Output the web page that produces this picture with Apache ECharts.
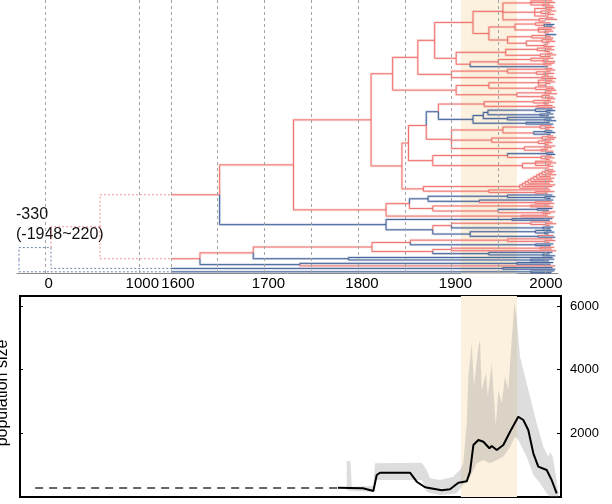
<!DOCTYPE html>
<html>
<head>
<meta charset="utf-8">
<script src="https://cdn.jsdelivr.net/npm/echarts@6/dist/echarts.min.js"></script>
<style>
  html, body { margin: 0; background: #fff; }
  #main { width: 612px; height: 504px; }
</style>
</head>
<body>
<div id="main"></div>
<script>
// ---- axis: years before 1600 are squeezed (broken axis) ----
const breakYears = [-330, 0, 1000, 1600]
const breakAxis = [1437.4, 1466.0, 1566.1, 1600]
const tickYears = [0, 1000, 1600, 1700, 1800, 1900, 2000]
const tickLabelShift = [3, 3, 7, 4, 4, 4, 1]
const gridYears = [0, 1000, 1600, 1650, 1700, 1750, 1800, 1850, 1900, 1950, 2000]
const shadeYears = [1910, 1970]

// ---- tree (colour letter r/b + node or tip year) ----
const cladeR1a = '((r2008,r2011,(r2005,r2009)r1998)r1985,((r2010,r2007)r2001,(r2012,(r2006,r2010)r2003)r1996,r2004)r1989,((r2009,r2013)r2002,r2000)r1994)r1955'
const cladeR1b = '(((r2006,(b2010,b2008)r1999)r1990,(r2011,r2007,(r2009,r2004)r2000)r1993)r1968,(((b2012,r2006)r2001,r2009)r1986,((r2008,(r2011,r2005)r2002)r1997,(r2003,r2010)r1999)r1980)r1960)r1940'
const cladeR2 = '(((r2007,(r2010,r2005)r2000)r1992,((r2008,r2012)r2003,r2006)r1995)r1958,(((r2009,(r2004,r2011)r1998)r1985,(r2010,r2007)r1999)r1950,b2003)r1920)r1905'
const cladeR2b = '(((r2008,r2011)r2002,(r2006,(r2010,r2004)r1999)r1991)r1960,(r2009,r2012)r1997)r1900'
const cladeR3 = '(((r2008,(r2011,r2006)r2001,r2002)r1993,(r2009,(r2010,r2012)r2002)r1990)r1940,((r2007,r2013)r2000,(r2005,(r2009,r2011)r2003)r1997)r1970)r1905'
const cladeR4 = '(((r2006,(r2010,r2004)r1999)r1988,(r2008,r2011)r1992)r1935,((((b2008,(b2011,b2006)b2002)b1990,(b2009,b2004)b1995)b1939,(b2010,(b2007,b2012)b2000)b1960)b1934,(b2005,b2009)b1980)b1923)b1886'
const cladeR5a = '(((r2007,(r2010,r2005)r2001)r1995,((b2008,b2011)b2000,b2006)r1988)r1955,(((r2009,r2012)r2003,r2010)r1997,(r2006,(r2008,r2004)r2000)r1993)r1943,((r2011,r2007)r2000,(r2003,r2009)r1996)r1978)r1900'
const cladeR5b = '(((b2009,b2011)b2002,(r2007,(r2010,r2005)r2001)r1996)r1960,((r2008,r2012,(r2006,r2009)r2003)r1990,r2004)r1976)r1880'
const cladeR6 = '((((((((((((r2009,r2011)r2003,r2008)r2000,r2012)r1997,r2006)r1994,r2010)r1991,r2007)r1988,r2009)r1985,r2005)r1982,r2011)r1979,r2008)r1976,r2004)r1973,(r2006,(r2010,r2003)r1990)r1940)r1870'
const cladeR7a = '((((b2008,(b2011,b2006)b2000)b1960,(b2009,(r2007,r2010)r1990)b1930)b1875,((r2005,r2009)r1985,((b2008,b2004)b1992,(r2011,r2006)r1998)r1950)r1880)r1855,(r2003,r2010)r1975)r1830'
const cladeR7b = '((b2008,b2005)b1965,(((r2008,(r2012,r2005)r2001)r1985,(b2009,b2006)b1998)r1900,((b2007,(b2010,b2004)b2000)b1990,(r2009,b2011)b1993)b1920)b1880)b1830'
const cladeR8a1 = '(((r2008,(r2011,r2005)r2000)r1960,(b2009,b2006)b1990)r1856,(((r2010,r2007)r1995,r2012)r1900,(b2008,(b2005,b2011)b1998)b1940)r1880)r1815'
const cladeR8a2 = '(b2008,(b2010,b2004)b1985)b1790'
const cladeR8b = '((b2009,b2006)b1970,r2011)b1738'
const cladeA2 = '(b2008,b2011)b1955'
const cladeB = '(b2010,b2007)b1985'

// ---- population size (skyline) ----
const medianYears = [1778.6, 1805.3, 1816.4, 1820, 1823.5, 1855.6, 1862.8, 1871.7, 1889.5, 1898.4, 1907.3, 1916.3, 1919.8, 1923.4, 1928.7, 1934.1, 1940.5, 1943, 1948.4, 1955.4, 1962.6, 1971.4, 1976.8, 1982.1, 1987.5, 1992.8, 2001.8, 2007.1, 2012.5]
const medianValues = [292, 273, 188, 691, 763, 763, 480, 305, 210, 242, 449, 493, 795, 1633, 1790, 1737, 1530, 1602, 1476, 1633, 2051, 2522, 2419, 2104, 1373, 952, 848, 534, 116]
const upperYears = [1787.9, 1792.0, 1793.3, 1816.4, 1818.2, 1868.1, 1873.5, 1877, 1887.7, 1901.9, 1905.5, 1909.1, 1912.6, 1916.3, 1918.0, 1921.6, 1924.1, 1928.7, 1930.5, 1932.3, 1936.9, 1938.8, 1943.0, 1947.3, 1950.1, 1953.7, 1957.2, 1960.7, 1964.4, 1967.2, 1969.7, 1973.3, 1978.6, 1984.0, 1991.1, 1998.2, 2003.5, 2005.5, 2008.2, 2011.8, 2014.2]
const upperValues = [1130, 1130, 323, 345, 1058, 1077, 848, 587, 534, 637, 754, 848, 1058, 2300, 3777, 4826, 3463, 4719, 4930, 3360, 3884, 3150, 4198, 2207, 3360, 2942, 3777, 3360, 4930, 6082, 5661, 4405, 3777, 3149, 2314, 1579, 1265, 1420, 1265, 637, 116]
const lowerYears = [1787.9, 1793.3, 1816.4, 1818.2, 1868.1, 1873.5, 1877, 1887.7, 1901.9, 1905.5, 1910.9, 1919.8, 1927.0, 1934.0, 1941.2, 1948.4, 1955.4, 1962.6, 1967.9, 1971.4, 1980.4, 1987.5, 1994.7, 2001.8, 2005.3, 2014.2]
const lowerValues = [220, 188, 166, 534, 534, 166, 126, 63, 94, 116, 323, 637, 1058, 1162, 1058, 1162, 1265, 1579, 1893, 1790, 1265, 691, 430, 116, 0, 0]
const dashedYears = [-130, 1778.6]
const dashedValues = [285, 285]
const popTicks = [2000, 4000, 6000]

const RED = '#EE6E69'
const BLUE = '#3D5D96'
const PX_PER_YEAR = 0.935

function toAxis(y) {
  if (y >= 1600) return y
  let k = 0
  while (k < breakYears.length - 2 && y > breakYears[k + 1]) k++
  const t = (y - breakYears[k]) / (breakYears[k + 1] - breakYears[k])
  return breakAxis[k] + t * (breakAxis[k + 1] - breakAxis[k])
}

function parseTree(str) {
  const s = str.replace(/\s+/g, '')
  let i = 0
  function node() {
    const n = { children: [] }
    if (s[i] === '(') {
      i++
      n.children.push(node())
      while (s[i] === ',') { i++; n.children.push(node()) }
      i++
    }
    n.color = s[i]
    i++
    const j = i
    while (i < s.length && /[-0-9.]/.test(s[i])) i++
    n.year = parseFloat(s.slice(j, i))
    return n
  }
  return node()
}

const cladeR1 = '(' + cladeR1a + ',' + cladeR1b + ')r1923'
const nodeN5 = '(' + cladeR1 + ',' + cladeR2 + ')r1882'
const nodeN4 = '(' + nodeN5 + ',' + cladeR2b + ')r1864'
const nodeN3 = '(' + nodeN4 + ',' + cladeR3 + ')r1837'
const nodeNd = '(' + cladeR4 + ',' + cladeR5a + ')r1873'
const nodeNc = '(' + nodeNd + ',' + cladeR5b + ')r1854'
const nodeNb = '(' + nodeNc + ',' + cladeR6 + ')r1847'
const nodeN2 = '(' + nodeN3 + ',' + nodeNb + ')r1814'
const nodeN1 = '(' + nodeN2 + ',' + cladeR7a + ')r1731'
const node1650 = '(' + nodeN1 + ',' + cladeR7b + ')r1652'
const cladeR8 = '((' + cladeR8a1 + ',' + cladeR8a2 + ')r1688,' + cladeR8b + ')r1631'
const nodeA1 = '(' + node1650 + ',' + cladeR8 + ')r580'
const nodeA = '(' + nodeA1 + ',' + cladeA2 + ')b57'
const treeRoot = parseTree('(' + nodeA + ',' + cladeB + ')b-330')

// layout: tips in order, internal node at middle of first/last child
let nTips = 0
function layout(n) {
  if (!n.children.length) { n.y = nTips++; return }
  n.children.forEach(layout)
  n.y = (n.children[0].y + n.children[n.children.length - 1].y) / 2
}
layout(treeRoot)

const solidEdges = []
const dottedEdges = []
function edges(p) {
  p.children.forEach(c => {
    const col = c.color === 'r' ? RED : BLUE
    const px = toAxis(p.year)
    const cx = toAxis(c.year)
    if (p.year >= 1600) {
      solidEdges.push({ coords: [[px, p.y], [px, c.y], [cx, c.y]], lineStyle: { color: col } })
    } else if (c.year <= 1600) {
      dottedEdges.push({ coords: [[px, p.y], [px, c.y], [cx, c.y]], lineStyle: { color: col } })
    } else {
      dottedEdges.push({ coords: [[px, p.y], [px, c.y], [1600, c.y]], lineStyle: { color: col } })
      solidEdges.push({ coords: [[1600, c.y], [cx, c.y]], lineStyle: { color: col } })
    }
    edges(c)
  })
}
edges(treeRoot)

const labelAxis = tickYears.map((y, k) => toAxis(y) + tickLabelShift[k] / PX_PER_YEAR)
const FONT = '"Liberation Sans", Arial, Helvetica, sans-serif'

let myChart = echarts.init(document.getElementById('main'), null, { renderer: 'canvas' })
let option = {
  animation: false,
  backgroundColor: '#fff',
  textStyle: { fontFamily: FONT },
  grid: [
    { left: 17, top: 0, width: 541, height: 273.5 },
    { left: 20, top: 296, width: 541, height: 201, show: true, borderColor: '#000', borderWidth: 2, backgroundColor: 'transparent' }
  ],
  xAxis: [
    {
      gridIndex: 0, type: 'value', min: 1435.3, max: 2013.9,
      axisLine: { show: true, onZero: false, lineStyle: { color: '#8c8c8c', width: 1 } },
      axisTick: { show: false },
      splitLine: { show: false },
      axisLabel: {
        customValues: labelAxis,
        fontSize: 15, color: '#000', margin: 3, fontFamily: FONT,
        formatter: v => {
          const k = labelAxis.findIndex(a => Math.abs(a - v) < 0.01)
          return k >= 0 ? String(tickYears[k]) : ''
        }
      }
    },
    { gridIndex: 1, type: 'value', min: 1438.5, max: 2017.1, show: false }
  ],
  yAxis: [
    { gridIndex: 0, type: 'value', inverse: true, min: -0.5, max: nTips - 0.5, show: false },
    {
      gridIndex: 1, type: 'value', position: 'right', min: 0, max: 6314,
      axisLine: { show: false }, splitLine: { show: false },
      axisTick: { show: true, inside: true, length: 4, customValues: popTicks, lineStyle: { color: '#000' } },
      axisLabel: { customValues: popTicks, fontSize: 13, color: '#000', margin: 9, fontFamily: FONT, formatter: v => String(v) }
    },
    {
      gridIndex: 1, type: 'value', position: 'left', min: 0, max: 6314,
      axisLine: { show: false }, splitLine: { show: false },
      axisTick: { show: true, inside: true, length: 3, customValues: popTicks, lineStyle: { color: '#000' } },
      axisLabel: { show: false }
    }
  ],
  graphic: [
    { type: 'text', left: 16, top: 207, style: { text: '-330', font: '16px ' + FONT, fill: '#111' } },
    { type: 'text', left: 16, top: 227, style: { text: '(-1948~220)', font: '16px ' + FONT, fill: '#111' } },
    { type: 'text', x: 3, y: 393, rotation: Math.PI / 2, style: { text: 'population size', font: '16px ' + FONT, fill: '#000', align: 'center', verticalAlign: 'middle' } }
  ],
  series: [
    {
      type: 'line', xAxisIndex: 0, yAxisIndex: 0, data: [], z: 1, silent: true,
      markArea: { silent: true, itemStyle: { color: '#FBF1DE' }, data: [[{ xAxis: shadeYears[0] }, { xAxis: shadeYears[1] }]] },
      markLine: {
        silent: true, symbol: ['none', 'none'], label: { show: false },
        lineStyle: { color: '#a3a3a3', type: [3, 3], width: 1 },
        data: gridYears.map(y => ({ xAxis: toAxis(y) }))
      }
    },
    {
      type: 'lines', coordinateSystem: 'cartesian2d', xAxisIndex: 0, yAxisIndex: 0, polyline: true, silent: true, z: 2,
      lineStyle: { width: 2.6, opacity: 0.22 },
      data: solidEdges
    },
    {
      type: 'lines', coordinateSystem: 'cartesian2d', xAxisIndex: 0, yAxisIndex: 0, polyline: true, silent: true, z: 3,
      lineStyle: { width: 1, opacity: 0.75, type: [2, 2] },
      data: dottedEdges
    },
    {
      type: 'lines', coordinateSystem: 'cartesian2d', xAxisIndex: 0, yAxisIndex: 0, polyline: true, silent: true, z: 4,
      lineStyle: { width: 1, opacity: 0.95 },
      data: solidEdges
    },
    {
      type: 'line', xAxisIndex: 1, yAxisIndex: 1, data: [], z: 1, silent: true,
      markArea: { silent: true, itemStyle: { color: '#FBF1DE' }, data: [[{ xAxis: shadeYears[0] }, { xAxis: shadeYears[1] }]] }
    },
    {
      type: 'custom', xAxisIndex: 1, yAxisIndex: 1, silent: true, z: 2,
      data: [[1900, 0]],
      renderItem: (params, api) => {
        const pts = []
        for (let k = 0; k < upperYears.length; k++) pts.push(api.coord([toAxis(upperYears[k]), upperValues[k]]))
        for (let k = lowerYears.length - 1; k >= 0; k--) pts.push(api.coord([toAxis(lowerYears[k]), lowerValues[k]]))
        return { type: 'polygon', shape: { points: pts }, style: { fill: 'rgba(150,150,150,0.32)' } }
      }
    },
    {
      type: 'line', xAxisIndex: 1, yAxisIndex: 1, showSymbol: false, silent: true, z: 3,
      lineStyle: { color: '#333', width: 1.5, type: [8, 6] },
      data: dashedYears.map((y, k) => [toAxis(y), dashedValues[k]])
    },
    {
      type: 'line', xAxisIndex: 1, yAxisIndex: 1, showSymbol: false, silent: true, z: 4,
      lineStyle: { color: '#000', width: 2 },
      data: medianYears.map((y, k) => [toAxis(y), medianValues[k]])
    }
  ]
}
myChart.setOption(option)
</script>
</body>
</html>
